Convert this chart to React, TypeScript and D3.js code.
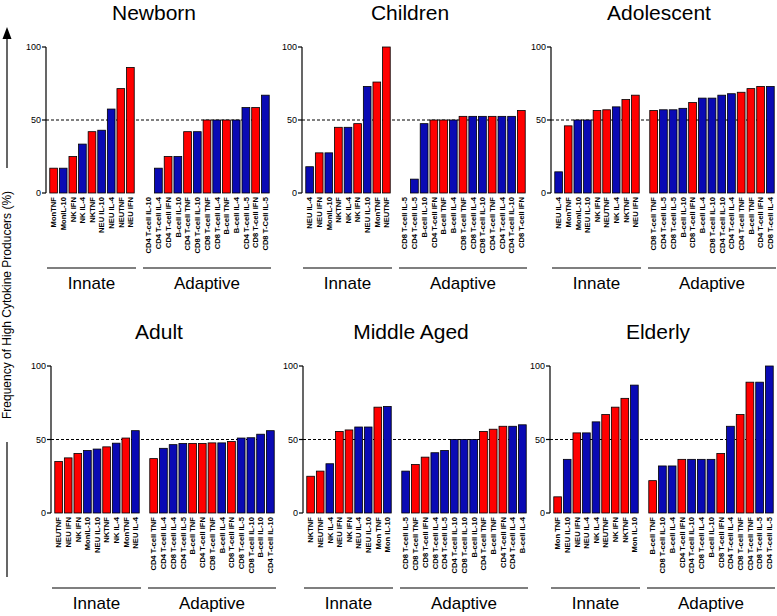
import React from "react";
import * as d3 from "d3";

// ---------- DATA ----------
const newbornInnateLabels = ["MonTNF", "MonIL-10", "NK IFN", "NK IL-4", "NKTNF", "NEU IL-10", "NEU IL-4", "NEUTNF", "NEU IFN"];
const newbornInnateValues = [17, 17, 25, 33.5, 42, 43, 57.5, 71.5, 86];
const newbornAdaptiveLabels = ["CD4 T-cell IL-10", "CD4 T-cell IL-4", "CD4 T-cell IFN", "B-cell IL-10", "CD4 T-cell TNF", "CD8 T-cell IL-10", "CD8 T-cell TNF", "CD8 T-cell IL-4", "B-cell TNF", "B-cell IL-4", "CD4 T-cell IL-5", "CD8 T-cell IFN", "CD8 T-Cell IL-5"];
const newbornAdaptiveValues = [0, 17, 25, 25, 42, 42, 50, 50, 50, 50, 58.5, 58.5, 67];

const childrenInnateLabels = ["NEU IL-4", "NEU IFN", "MonIL-10", "NKTNF", "NK IL-4", "NK IFN", "NEU IL-10", "MonTNF", "NEUTNF"];
const childrenInnateValues = [18, 27.5, 27.5, 45, 45, 47.5, 73, 76, 100];
const childrenAdaptiveLabels = ["CD8 T-cell IL-5", "CD4 T-cell IL-5", "B-cell IL-10", "CD4 T-cell IFN", "B-cell TNF", "B-cell IL-4", "CD8 T-cell TNF", "CD8 T-cell IL-4", "CD8 T-cell IL-10", "CD4 T-cell TNF", "CD4 T-cell IL-4", "CD4 T-cell IL-10", "CD8 T-cell IFN"];
const childrenAdaptiveValues = [0, 9.5, 47.5, 50, 50, 50, 52.5, 52.5, 52.5, 52.5, 52.5, 52.5, 56.5];

const adolescentInnateLabels = ["NEU IL-4", "MonTNF", "MonIL-10", "NEU IL-10", "NK IFN", "NEUTNF", "NK IL-4", "NKTNF", "NEU IFN"];
const adolescentInnateValues = [14.5, 46, 50, 50, 56.5, 57, 59, 64, 67];
const adolescentAdaptiveLabels = ["CD8 T-cell TNF", "CD4 T-cell IL-5", "CD8 T-cell IL-5", "B-cell IL-10", "CD8 T-cell IFN", "B-cell IL-4", "CD8 T-cell IL-10", "CD4 T-cell IL-10", "CD4 T-cell IL-4", "CD4 T-cell TNF", "B-cell TNF", "CD4 T-cell IFN", "CD8 T-cell IL-4"];
const adolescentAdaptiveValues = [56.5, 57, 57, 58, 62, 65, 65, 67, 68, 69, 71.5, 73, 73];

const adultInnateLabels = ["NEUTNF", "NEU IFN", "NK IFN", "MonIL-10", "NEU IL-10", "NKTNF", "NK IL-4", "MonTNF", "NEU IL-4"];
const adultInnateValues = [35, 37.5, 40.5, 42.5, 43.5, 45, 47.5, 51, 56];
const adultAdaptiveLabels = ["CD4 T-cell TNF", "CD4 T-cell IL-4", "CD8 T-cell IL-4", "CD4 T-cell IL-5", "B-cell TNF", "CD4 T-cell IFN", "CD8 T-cell TNF", "B-cell IL-4", "CD8 T-cell IFN", "CD8 T-cell IL-5", "CD8 T-cell IL-10", "B-cell IL-10", "CD4 T-cell IL-10"];
const adultAdaptiveValues = [37, 44, 46.5, 47.3, 47.3, 47.3, 47.7, 47.7, 48.6, 51, 51.2, 53.6, 56];

const middleInnateLabels = ["NKTNF", "NEUTNF", "NK IL-4", "NEU IFN", "NK IFN", "NEU IL-4", "NEU IL-10", "Mon TNF", "Mon IL-10"];
const middleInnateValues = [25, 28.5, 33.5, 55.5, 56.5, 58.5, 58.5, 72, 72.5];
const middleAdaptiveLabels = ["CD8 T-cell IL-5", "CD8 T-cell TNF", "CD8 T-cell IFN", "CD8 T-cell IL-4", "CD4 T-cell IL-5", "CD4 T-cell IL-10", "CD8 T-cell IL-10", "B-cell IL-10", "CD4 T-cell TNF", "B-cell TNF", "CD4 T-cell IFN", "CD4 T-cell IL-4", "B-cell IL-4"];
const middleAdaptiveValues = [28.5, 33, 38, 41, 42.5, 50, 50, 50, 55.5, 57, 59, 59, 60];

const elderlyInnateLabels = ["Mon TNF", "NEU IL-10", "NEU IFN", "NEU IL-4", "NK IL-4", "NEUTNF", "NK IFN", "NKTNF", "Mon IL-10"];
const elderlyInnateValues = [11, 36.5, 54.5, 54.5, 62, 67, 72, 78, 87];
const elderlyAdaptiveLabels = ["B-cell TNF", "CD8 T-cell IL-10", "B-cell IL-4", "CD4 T-cell IFN", "CD4 T-cell IL-10", "CD8 T-cell IL-4", "B-cell IL-10", "CD8 T-cell IFN", "CD4 T-cell IL-4", "CD8 T-cell TNF", "CD4 T-cell TNF", "CD8 T-cell IL-5", "CD4 T-cell IL-5"];
const elderlyAdaptiveValues = [22, 32, 32, 36.5, 36.5, 36.5, 36.5, 40.5, 59, 67, 89, 89, 100];

const panelTitles = ["Newborn", "Children", "Adolescent", "Adult", "Middle Aged", "Elderly"];
const groupNames = ["Innate", "Adaptive"];
const yTicks = [0, 50, 100];
const yAxisTitle = "Frequency of High Cytokine Producers (%)";

const panelData = [
  [newbornInnateLabels, newbornInnateValues, newbornAdaptiveLabels, newbornAdaptiveValues],
  [childrenInnateLabels, childrenInnateValues, childrenAdaptiveLabels, childrenAdaptiveValues],
  [adolescentInnateLabels, adolescentInnateValues, adolescentAdaptiveLabels, adolescentAdaptiveValues],
  [adultInnateLabels, adultInnateValues, adultAdaptiveLabels, adultAdaptiveValues],
  [middleInnateLabels, middleInnateValues, middleAdaptiveLabels, middleAdaptiveValues],
  [elderlyInnateLabels, elderlyInnateValues, elderlyAdaptiveLabels, elderlyAdaptiveValues],
];

// ---------- LAYOUT ----------
const W = 777;
const H = 616;
const axisXs = [46, 302, 551, 51, 303, 550];
const rowY0 = [193, 513];
const rowY100 = [47, 366];
const RED = "#ff0000";
const BLUE = "#0a0ab4";
const FONT = "Arial, 'Liberation Sans', Helvetica, sans-serif";

const colorFor = (label: string) => (/TNF|IFN/.test(label) ? RED : BLUE);

function Panel({ idx }: { idx: number }) {
  const row = idx < 3 ? 0 : 1;
  const ax = axisXs[idx];
  const y = d3.scaleLinear().domain([0, 100]).range([rowY0[row], rowY100[row]]);
  const [iL, iV, aL, aV] = panelData[idx] as [string[], number[], string[], number[]];
  const xi = d3.scaleBand<string>().domain(iL.map((_, i) => String(i))).range([ax + 3, ax + 89]).paddingInner(0.2).paddingOuter(0.08);
  const xa = d3.scaleBand<string>().domain(aL.map((_, i) => String(i))).range([ax + 98, ax + 224]).paddingInner(0.2).paddingOuter(0.08);
  const y0 = y(0);
  const groups = [
    { labels: iL, values: iV, x: xi, x0: ax + 1, x1: ax + 90, name: groupNames[0] },
    { labels: aL, values: aV, x: xa, x0: ax + 97, x1: ax + 225, name: groupNames[1] },
  ];
  const lineY = y0 + 75;
  return (
    <g>
      <text x={ax + 108} y={rowY100[row] - 27} textAnchor="middle" fontSize={21} fontFamily={FONT} fill="#000">
        {panelTitles[idx]}
      </text>
      {/* dashed 50 line */}
      <line x1={ax} x2={ax + 225} y1={y(50)} y2={y(50)} stroke="#000" strokeWidth={1} strokeDasharray="3,2" />
      {groups.map((g, gi) => (
        <g key={gi}>
          {g.values.map((v, i) =>
            v > 0 ? (
              <rect
                key={i}
                x={g.x(String(i))!}
                y={y(v)}
                width={g.x.bandwidth()}
                height={y0 - y(v)}
                fill={colorFor(g.labels[i])}
                stroke="#000"
                strokeWidth={0.8}
              />
            ) : null
          )}
          {g.labels.map((l, i) => {
            const cx = g.x(String(i))! + g.x.bandwidth() / 2;
            return (
              <text
                key={"t" + i}
                transform={`translate(${cx + 2.8},${y0 + 4}) rotate(-90)`}
                textAnchor="end"
                fontSize={7.6}
                fontWeight="bold"
                fontFamily={FONT}
                fill="#000"
              >
                {l}
              </text>
            );
          })}
          <line x1={g.x0} x2={g.x1} y1={lineY} y2={lineY} stroke="#000" strokeWidth={1.2} />
          <text x={(g.x0 + g.x1) / 2} y={lineY + 21} textAnchor="middle" fontSize={17} fontFamily={FONT} fill="#000">
            {g.name}
          </text>
        </g>
      ))}
      {/* y axis */}
      <line x1={ax} x2={ax} y1={y(100)} y2={y(0)} stroke="#000" strokeWidth={1.2} />
      {yTicks.map((t) => (
        <g key={t}>
          <line x1={ax - 4} x2={ax} y1={y(t)} y2={y(t)} stroke="#000" strokeWidth={1.2} />
          <text x={ax - 5} y={y(t) + 3.2} textAnchor="end" fontSize={9} fontFamily={FONT} fill="#000">
            {t}
          </text>
        </g>
      ))}
    </g>
  );
}

export default function App() {
  return (
    <svg width={W} height={H} style={{ position: "absolute", left: 0, top: 0, background: "#fff" }}>
      <rect x={0} y={0} width={W} height={H} fill="#fff" />
      {/* global y-axis title with arrow */}
      <line x1={7} x2={7} y1={36} y2={168} stroke="#000" strokeWidth={1.2} />
      <path d="M7,27 L2.5,39 L11.5,39 Z" fill="#000" />
      <text transform="translate(11,305) rotate(-90)" textAnchor="middle" fontSize={12} fontFamily={FONT} fill="#000">
        {yAxisTitle}
      </text>
      <line x1={7} x2={7} y1={442} y2={577} stroke="#000" strokeWidth={1.2} />
      {panelTitles.map((_, i) => (
        <Panel key={i} idx={i} />
      ))}
    </svg>
  );
}
